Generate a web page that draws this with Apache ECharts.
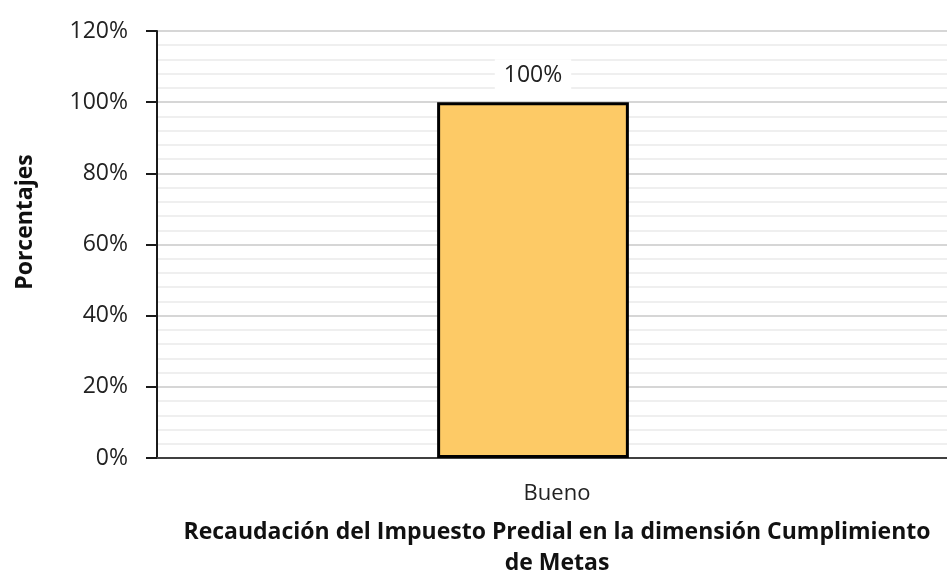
<!DOCTYPE html>
<html>
<head>
<meta charset="utf-8">
<script src="https://cdn.jsdelivr.net/npm/echarts@6/dist/echarts.min.js"></script>
<style>html,body{margin:0;padding:0;background:#fff;}#c{width:947px;height:581px;}</style>
</head>
<body>
<div id="c"></div>
<script>
const categories = ['Bueno'];
const values = [100];
const yTicks = [0, 20, 40, 60, 80, 100, 120];
const xTitle = 'Recaudación del Impuesto Predial en la dimensión Cumplimiento\nde Metas';
const yTitle = 'Porcentajes';

const FONT = '"Open Sans", "Noto Sans", sans-serif';
const yMin = yTicks[0], yMax = yTicks[yTicks.length - 1];
const chart = echarts.init(document.getElementById('c'));
chart.setOption({
  animation: false,
  backgroundColor: '#fff',
  grid: [
    { left: 157, top: 31, right: -10, bottom: 123, containLabel: false, outerBoundsMode: 'none' },
    { left: 157, top: 31, right: 38, bottom: 123, containLabel: false, outerBoundsMode: 'none' }
  ],
  xAxis: [{
    gridIndex: 0,
    type: 'category',
    data: categories,
    axisLine: { lineStyle: { color: '#404040', width: 2 } },
    axisTick: { show: false },
    axisLabel: { color: '#222', fontSize: 22, fontFamily: FONT, margin: 25 },
    name: xTitle,
    nameLocation: 'middle',
    nameGap: 59,
    nameTextStyle: { color: '#111', fontSize: 23, fontWeight: 'bold', fontFamily: FONT, lineHeight: 31 }
  }, {
    gridIndex: 1,
    type: 'category',
    data: categories,
    show: false
  }],
  yAxis: [{
    gridIndex: 0,
    type: 'value',
    min: yMin,
    max: yMax,
    interval: 20,
    axisLine: { show: true, lineStyle: { color: '#1a1a1a', width: 2 } },
    axisTick: { show: true, length: 11, lineStyle: { color: '#1a1a1a', width: 2 } },
    axisLabel: { color: '#222', fontSize: 23, fontFamily: FONT, margin: 29, formatter: v => v + '%' },
    splitLine: { show: true, lineStyle: { color: '#d6d6d6', width: 2 } },
    minorTick: { show: false, splitNumber: 5 },
    minorSplitLine: { show: true, lineStyle: { color: '#efefef', width: 2 } }
  }, {
    gridIndex: 1,
    type: 'value',
    min: yMin,
    max: yMax,
    interval: 20,
    show: false,
    splitLine: { show: false }
  }],
  graphic: [{
    type: 'text',
    x: 25,
    y: 222,
    rotation: Math.PI / 2,
    style: { text: yTitle, fill: '#111', font: 'bold 23px ' + FONT, textAlign: 'center', textVerticalAlign: 'middle' }
  }],
  series: [{
    type: 'bar',
    xAxisIndex: 1,
    yAxisIndex: 1,
    data: values,
    barWidth: '25.5%',
    itemStyle: { color: '#FDCA66', borderColor: '#000', borderWidth: 3 },
    label: {
      show: true,
      position: 'top',
      distance: 10,
      formatter: p => p.value + '%',
      color: '#222',
      fontSize: 23,
      fontFamily: FONT,
      backgroundColor: '#fff',
      padding: [5, 9]
    }
  }]
});
</script>
</body>
</html>
